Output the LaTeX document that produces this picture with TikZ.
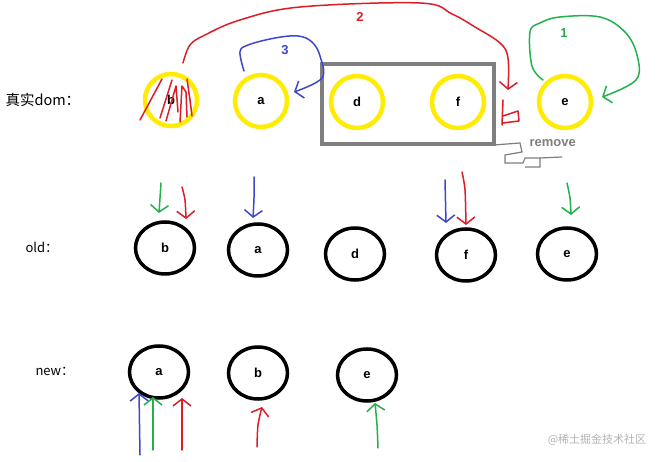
\documentclass[tikz,border=0pt]{standalone}
\usepackage{fontspec}
\setmainfont{Liberation Sans}
\newfontfamily\cjk{Noto Sans CJK SC}
\usetikzlibrary{arrows.meta,shapes.geometric}
\definecolor{pred}{RGB}{220,30,40}
\definecolor{pblue}{RGB}{63,72,204}
\definecolor{pgreen}{RGB}{34,177,76}
\definecolor{pyellow}{RGB}{255,236,0}
\definecolor{pgray}{RGB}{127,127,127}
\begin{document}
\begin{tikzpicture}[x=1pt,y=-1pt,
  ycirc/.style={circle,draw=pyellow,line width=4.5pt,minimum size=52pt,inner sep=0pt,font=\bfseries\fontsize{13}{15}\selectfont},
  kcirc/.style={ellipse,draw=black,line width=3.5pt,minimum width=59pt,minimum height=52pt,inner sep=0pt,font=\bfseries\fontsize{13}{15}\selectfont},
  pen/.style={line width=1.5pt,line cap=round,line join=round},
  hand/.style={pen,-{Straight Barb[length=7pt,width=18pt,line width=1.5pt]}},
  lab/.style={font=\cjk\fontsize{13}{15}\selectfont},
  num/.style={font=\bfseries\fontsize{13}{15}\selectfont}]
\useasboundingbox (0,0) rectangle (670,462);
\fill[white] (0,0) rectangle (670,462);
% top row
\node[lab,anchor=west,font=\cjk\fontsize{14.5}{16}\selectfont] (lreal) at (2,100) {真实dom：};
\node[ycirc] (tb) at (171,100) {b};
\node[ycirc] (ta) at (261,101) {a};
\node[ycirc] (td) at (357,102) {d};
\node[ycirc] (tf) at (458,102) {f};
\node[ycirc] (te) at (565,102) {e};
\node[draw=pgray,line width=4pt,minimum width=172pt,minimum height=80pt,inner sep=0pt] (box) at (408,104) {};
\node[num,text=pgray,anchor=west] (rm) at (526,143) {remove};
% hatching on b
\draw[pen,pred] (140,120) -- (162,79);
\draw[pen,pred] (160,118) -- (172,80);
\draw[pen,pred] (166,121) -- (176,86) -- (178,112);
\draw[pen,pred] (180,122) -- (182,86) -- (186,92) -- (187,117);
\draw[pen,pred] (187,79) -- (190,100) -- (192,116);
% arrow 2
\draw[hand,pred] plot[smooth,tension=0.6] coordinates {(183,63) (190,45) (205,35) (240,20) (300,7) (420,3) (452,14) (475,27) (500,43) (508,58) (508,90)};
\node[num,text=pred] (n2) at (360,17) {2};
\draw[pen,pred] (503,100) -- (502,125);
\draw[pen,pred] (503,116) -- (518,111) -- (519,121) -- (503,123);
% arrow 3
\draw[hand,pblue] plot[smooth,tension=0.6] coordinates {(244,71) (240,52) (248,45) (275,38) (298,36) (312,42) (320,56) (322,78) (294,92)};
\node[num,text=pblue] (n3) at (285,50) {3};
% arrow 1
\draw[hand,pgreen] plot[smooth,tension=0.6] coordinates {(543,80) (532,66) (530,32) (540,23) (560,17) (600,17) (625,32) (637,55) (636,80) (602,97)};
\node[num,text=pgreen] (n1) at (564,33) {1};
% remove scribble
\draw[line width=1.2pt,pgray] (494,145) -- (520,143) -- (522,152) -- (505,155) -- (505,163) -- (523,163) -- (525,158) -- (540,158) -- (540,167) -- (525,167);
\draw[line width=1.2pt,pgray] (540,158) -- (562,157);
% middle row
\node[lab,anchor=west] (lold) at (22,247) {old：};
\node[kcirc] (mb) at (165,248) {b};
\node[kcirc] (ma) at (258,250) {a};
\node[kcirc] (md) at (355,254) {d};
\node[kcirc] (mf) at (466,255) {f};
\node[kcirc] (me) at (567,254) {e};
\draw[hand,pgreen] plot[smooth] coordinates {(161,183) (160,198) (159,213)};
\draw[hand,pred] plot[smooth] coordinates {(182,187) (185,200) (186,219)};
\draw[hand,pblue] plot[smooth] coordinates {(254,177) (254,198) (253,218)};
\draw[hand,pblue] (445,180) -- (446,223);
\draw[hand,pred] plot[smooth] coordinates {(462,172) (465,190) (466,225)};
\draw[hand,pgreen] plot[smooth] coordinates {(567,183) (570,198) (571,215)};
% bottom row
\node[lab,anchor=west] (lnew) at (32,371) {new：};
\node[kcirc] (na) at (159,372) {a};
\node[kcirc] (nb) at (258,373) {b};
\node[kcirc] (ne) at (367,375) {e};
\draw[hand,pblue] (140,455) -- (139,393);
\draw[hand,pgreen] (153,450) -- (153,397);
\draw[hand,pred] (182,450) -- (182,398);
\draw[hand,pred] plot[smooth] coordinates {(257,447) (258,425) (262,407)};
\draw[hand,pgreen] plot[smooth] coordinates {(378,448) (377,425) (375,403)};
% watermark
\node[font=\cjk\fontsize{11}{13}\selectfont,text=gray!60] (wm) at (597,440) {@稀土掘金技术社区};
\end{tikzpicture}
\end{document}
